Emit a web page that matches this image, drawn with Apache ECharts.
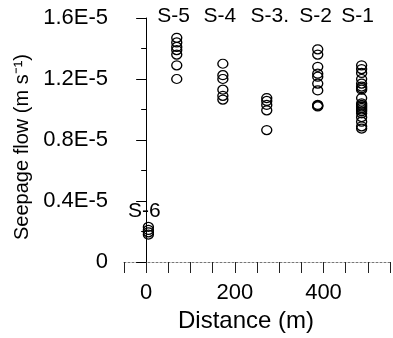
<!DOCTYPE html>
<html>
<head>
<meta charset="utf-8">
<script src="https://cdn.jsdelivr.net/npm/echarts@6/dist/echarts.min.js"></script>
<style>
  html, body { margin: 0; padding: 0; background: #fff; }
  #chart { width: 393px; height: 338px; }
</style>
</head>
<body>
<div id="chart"></div>
<script>
// station names and their distance along the transect (m)
var sites = ['S-6', 'S-5', 'S-4', 'S-3', 'S-2', 'S-1']
var distance = [5, 69, 173, 272, 387, 486]

// seepage flow readings, in units of 1E-5 m/s
var flowS6 = [0.18, 0.195, 0.21, 0.23]
var flowS5 = [1.47, 1.44, 1.41, 1.39, 1.36, 1.29, 1.2]
var flowS4 = [1.3, 1.225, 1.2, 1.13, 1.09, 1.065]
var flowS3 = [1.075, 1.056, 1.03, 0.995, 0.865]
var flowS2 = [1.395, 1.36, 1.28, 1.235, 1.215, 1.17, 1.125, 1.02, 1.025, 1.03]
var flowS1 = [1.29, 1.265, 1.24, 1.2, 1.17, 1.15, 1.14, 1.13, 1.075, 1.04, 1.03, 1.02, 1.01, 1.0, 0.99, 0.975, 0.95, 0.92, 0.89, 0.875]
var flows = [flowS6, flowS5, flowS4, flowS3, flowS2, flowS1]

// text placed over each cluster (label anchor, data units)
var labelText = ['S-6', 'S-5', 'S-4', 'S-3.', 'S-2', 'S-1']
var labelX = [-4, 62, 166, 279, 382, 477]
var labelY = [0.33, 1.613, 1.613, 1.613, 1.613, 1.613]

var yTickLabels = ['0', '0.4E-5', '0.8E-5', '1.2E-5', '1.6E-5']
var xTickLabels = { '0': '0', '200': '200', '400': '400' }

var font = 'Liberation Sans, Arial, sans-serif'

var points = []
flows.forEach(function (list, i) {
  list.forEach(function (v) {
    points.push([distance[i], v * 1e-5])
  })
})
var labels = labelText.map(function (t, i) {
  return { name: t, value: [labelX[i], labelY[i] * 1e-5] }
})

var myChart = echarts.init(document.getElementById('chart'))
var option = {
  animation: false,
  grid: { left: 124, right: -3, top: 18, bottom: 70 },
  xAxis: {
    type: 'value',
    min: -50,
    max: 550,
    interval: 50,
    name: 'Distance (m)',
    nameLocation: 'middle',
    nameGap: 47,
    nameTextStyle: { fontFamily: font, fontSize: 24, color: '#000', padding: [0, 22, 0, 0] },
    splitLine: { show: false },
    axisLine: { onZero: false, lineStyle: { color: '#777', width: 1, type: [2, 2] } },
    axisTick: { length: 11, lineStyle: { color: '#222' } },
    axisLabel: {
      fontFamily: font, fontSize: 22, color: '#000', margin: 20,
      formatter: function (v) { return xTickLabels[String(v)] || '' }
    }
  },
  yAxis: {
    type: 'value',
    min: 0,
    max: 1.6e-5,
    interval: 0.4e-5,
    name: 'Seepage flow (m s⁻¹)',
    nameLocation: 'middle',
    nameGap: 91,
    nameTextStyle: { fontFamily: font, fontSize: 20, color: '#000', padding: [0, 14, 0, 0] },
    splitLine: { show: false },
    axisLine: { show: true, lineStyle: { color: '#000', width: 1 } },
    axisTick: { length: 10, lineStyle: { color: '#000' } },
    minorTick: { show: true, splitNumber: 2, length: 5, lineStyle: { color: '#000' } },
    axisLabel: {
      fontFamily: font, fontSize: 22, color: '#000', margin: 16,
      formatter: function (v) { return yTickLabels[Math.round(v / 0.4e-5)] }
    }
  },
  series: [
    {
      type: 'scatter',
      data: points,
      symbol: 'circle',
      symbolSize: [10, 9],
      itemStyle: { color: 'rgba(0,0,0,0)', borderColor: '#000', borderWidth: 1.3, opacity: 1 },
      silent: true
    },
    {
      type: 'scatter',
      data: labels,
      symbolSize: 0,
      clip: false,
      silent: true,
      itemStyle: { color: '#000', opacity: 1 },
      label: {
        show: true,
        position: 'inside',
        formatter: '{b}',
        fontFamily: font,
        fontSize: 21,
        color: '#000',
        textBorderWidth: 0
      }
    }
  ]
}
myChart.setOption(option)
</script>
</body>
</html>
